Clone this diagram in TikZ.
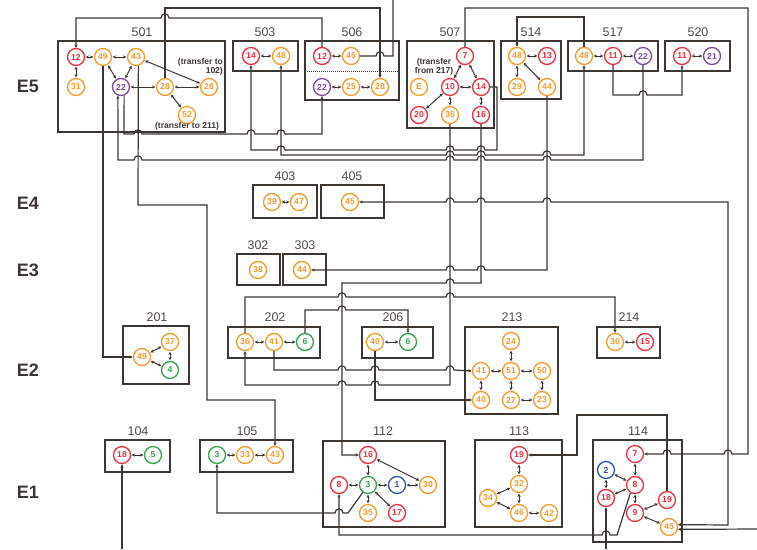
\documentclass[tikz,border=0pt]{standalone}
\usepackage{fontspec}
\setmainfont{Liberation Sans}
\usetikzlibrary{arrows.meta}
\definecolor{cr}{HTML}{E8303F}
\definecolor{co}{HTML}{F39A2D}
\definecolor{cp}{HTML}{7A4A9E}
\definecolor{cg}{HTML}{35A04F}
\definecolor{cb}{HTML}{2F55A8}
\definecolor{lc}{HTML}{3D3734}
\def\jumpR#1#2{-- (#1-4,#2) .. controls (#1-4,#2-5.5) and (#1+4,#2-5.5) .. (#1+4,#2)}
\def\jumpL#1#2{-- (#1+4,#2) .. controls (#1+4,#2-5.5) and (#1-4,#2-5.5) .. (#1-4,#2)}
\begin{document}
\begin{tikzpicture}[x=1pt,y=-1pt,
 >={Stealth[length=3.5pt,width=3.2pt]},
 cn/.style={circle,draw=#1,text=#1,fill=white,line width=1.3pt,minimum size=17pt,inner sep=0pt,font=\fontsize{8.6}{8.6}\selectfont\bfseries},
 nr/.style={cn=cr}, no/.style={cn=co}, np/.style={cn=cp}, ng/.style={cn=cg}, nb/.style={cn=cb},
 boxst/.style={draw=lc,line width=1.4pt},
 blab/.style={font=\fontsize{12.5}{12.5}\selectfont,text=lc!90},
 elab/.style={font=\fontsize{18}{18}\selectfont\bfseries,text=lc},
 tnote/.style={font=\fontsize{8.5}{9}\selectfont\bfseries,text=lc,inner sep=0pt},
 ed/.style={draw=lc,line width=1pt,<->,shorten <=0.4pt,shorten >=0.4pt},
 conn/.style={draw=lc,line width=1.2pt}
]
\useasboundingbox[fill=white] (0,0) rectangle (757,549);

% level labels
\node[elab] (E5) at (28,86) {E5};
\node[elab] (E4) at (28,203) {E4};
\node[elab] (E3) at (28,270) {E3};
\node[elab] (E2) at (28,370) {E2};
\node[elab] (E1) at (28,492) {E1};

% ---------- boxes ----------
\draw[boxst] (58,41) rectangle (225,132);   \node[blab] (L501) at (142,32) {501};
\draw[boxst] (233,41) rectangle (298,71);   \node[blab] (L503) at (265,32) {503};
\draw[boxst] (305,41) rectangle (399,100);  \node[blab] (L506) at (352,32) {506};
\draw[lc,line width=1pt,densely dotted] (305,71) -- (399,71);
\draw[boxst] (407,41) rectangle (494,128);  \node[blab] (L507) at (450,32) {507};
\draw[boxst] (501,41) rectangle (561,99);   \node[blab] (L514) at (531,32) {514};
\draw[boxst] (568,41) rectangle (658,71);   \node[blab] (L517) at (613,32) {517};
\draw[boxst] (665,41) rectangle (730,71);   \node[blab] (L520) at (698,32) {520};
\draw[boxst] (253,185) rectangle (317,218); \node[blab] (L403) at (285,176) {403};
\draw[boxst] (321,185) rectangle (384,218); \node[blab] (L405) at (352,176) {405};
\draw[boxst] (237,254) rectangle (280,285); \node[blab] (L302) at (258,245) {302};
\draw[boxst] (283,254) rectangle (326,285); \node[blab] (L303) at (305,245) {303};
\draw[boxst] (123,326) rectangle (189,384); \node[blab] (L201) at (157,317) {201};
\draw[boxst] (228,327) rectangle (320,358); \node[blab] (L202) at (275,317) {202};
\draw[boxst] (362,327) rectangle (433,358); \node[blab] (L206) at (393,317) {206};
\draw[boxst] (465,327) rectangle (558,414); \node[blab] (L213) at (512,317) {213};
\draw[boxst] (597,327) rectangle (660,358); \node[blab] (L214) at (629,317) {214};
\draw[boxst] (105,440) rectangle (170,472); \node[blab] (L104) at (138,431) {104};
\draw[boxst] (200,440) rectangle (293,472); \node[blab] (L105) at (247,431) {105};
\draw[boxst] (323,441) rectangle (445,527); \node[blab] (L112) at (383,431) {112};
\draw[boxst] (475,440) rectangle (562,527); \node[blab] (L113) at (519,431) {113};
\draw[boxst] (593,440) rectangle (682,542); \node[blab] (L114) at (638,431) {114};

\coordinate (topend) at (393,0);
\coordinate (rightend) at (757,529);
\coordinate (bl) at (122,549);
\coordinate (br) at (606,549);

% ---------- nodes ----------
% 501
\node[nr] (a12) at (76,57) {12};
\node[no] (a49) at (103,57) {49};
\node[no] (a43) at (136,57) {43};
\node[no] (a31) at (76,87) {31};
\node[np] (a22) at (121,87) {22};
\node[no] (a28) at (165,87) {28};
\node[no] (a26) at (209,87) {26};
\node[no] (a52) at (187,115) {52};
% 503
\node[nr] (b14) at (251,56) {14};
\node[no] (b48) at (281,56) {48};
% 506
\node[nr] (c12) at (322,56) {12};
\node[no] (c45) at (351,56) {45};
\node[np] (c22) at (322,87) {22};
\node[no] (c25) at (351,87) {25};
\node[no] (c28) at (380,87) {28};
% 507
\node[nr] (d7) at (465,56) {7};
\node[nr] (d10) at (450,87) {10};
\node[nr] (d14) at (481,87) {14};
\node[no] (dE) at (419,87) {E};
\node[nr] (d20) at (419,115) {20};
\node[no] (d36) at (450,115) {36};
\node[nr] (d16) at (481,115) {16};
% 514
\node[no] (e48) at (517,56) {48};
\node[nr] (e13) at (547,56) {13};
\node[no] (e29) at (517,87) {29};
\node[no] (e44) at (547,87) {44};
% 517
\node[no] (f48) at (584,56) {48};
\node[nr] (f11) at (613,56) {11};
\node[np] (f22) at (643,56) {22};
% 520
\node[nr] (g11) at (682,56) {11};
\node[np] (g21) at (712,56) {21};
% 403 405
\node[no] (h39) at (272,202) {39};
\node[no] (h47) at (299,202) {47};
\node[no] (i45) at (350,202) {45};
% 302 303
\node[no] (j38) at (258,270) {38};
\node[no] (k44) at (302,270) {44};
% 201
\node[no] (l49) at (142,357) {49};
\node[no] (l37) at (170,342) {37};
\node[ng] (l4) at (170,370) {4};
% 202
\node[no] (m36) at (245,342) {36};
\node[no] (m41) at (274,342) {41};
\node[ng] (m6) at (305,342) {6};
% 206
\node[no] (n40) at (375,342) {40};
\node[ng] (n6) at (408,342) {6};
% 213
\node[no] (o24) at (511,341) {24};
\node[no] (o41) at (481,371) {41};
\node[no] (o51) at (511,371) {51};
\node[no] (o50) at (542,371) {50};
\node[no] (o40) at (481,400) {40};
\node[no] (o27) at (511,400) {27};
\node[no] (o23) at (542,400) {23};
% 214
\node[no] (q36) at (615,342) {36};
\node[nr] (q15) at (645,342) {15};
% 104
\node[nr] (r18) at (122,455) {18};
\node[ng] (r5) at (153,455) {5};
% 105
\node[ng] (s3) at (217,455) {3};
\node[no] (s33) at (245,455) {33};
\node[no] (s43) at (275,455) {43};
% 112
\node[nr] (t16) at (368,455) {16};
\node[nr] (t8) at (339,485) {8};
\node[ng] (t3) at (368,485) {3};
\node[nb] (t1) at (397,485) {1};
\node[no] (t30) at (428,485) {30};
\node[no] (t35) at (368,513) {35};
\node[nr] (t17) at (397,513) {17};
% 113
\node[nr] (u19) at (519,455) {19};
\node[no] (u32) at (519,484) {32};
\node[no] (u34) at (488,498) {34};
\node[no] (u46) at (519,513) {46};
\node[no] (u42) at (549,513) {42};
% 114
\node[nr] (v7) at (635,454) {7};
\node[nb] (v2) at (606,470) {2};
\node[nr] (v8) at (635,485) {8};
\node[nr] (v18) at (606,498) {18};
\node[nr] (v19) at (667,500) {19};
\node[nr] (v9) at (635,513) {9};
\node[no] (v45) at (669,527) {45};

% notes
\node[tnote,align=right,anchor=north east] (n102) at (223,58) {(transfer to\\102)};
\node[tnote] (n211) at (187,126) {(transfer to 211)};
\node[tnote,align=center] (n217) at (434,67) {(transfer\\from 217)};

% ---------- long connectors ----------
\draw[conn,->] (c12.north) -- (322,18) \jumpL{165}{18} -- (76,18) -- (a12.north);
\draw[conn,->] (a28.north) -- (165,8) -- (380,8) -- (c28.north);
\draw[conn] (c45.east) \jumpR{380}{56} -- (393,56) -- (topend);
\draw[conn,->] (d7.north) -- (465,8) -- (748,8) -- (748,454) \jumpL{728}{454} \jumpL{667}{454} -- (v7.east);
\draw[conn,<-] (e48.north) -- (517,17) -- (584,17) -- (f48.north);
\draw[conn,->] (f11.south) -- (613,95) \jumpR{643}{95} -- (682,95) -- (g11.south);
\draw[conn,->] (f22.south) -- (643,160) \jumpL{547}{160} \jumpL{481}{160} \jumpL{450}{160} \jumpL{138}{160} -- (118,160) -- (a22.250);
\draw[conn,<->] (b48.south) -- (281,155) \jumpR{450}{155} \jumpR{481}{155} \jumpR{547}{155} -- (584,155) -- (f48.south);
\draw[conn,<-] (b14.south) -- (251,150) \jumpR{281}{150} \jumpR{450}{150} \jumpR{481}{150} -- (497,150) -- (497,87) -- (d14.east);
\draw[conn,->] (a22.290) -- (124,134) \jumpR{138}{134} \jumpR{251}{134} \jumpR{281}{134} -- (322,134) -- (c22.south);
\draw[conn,->] (a49.south) -- (103,357) -- (l49.west);
\draw[conn,->] (a43.285) -- (138,205) -- (207,205) -- (207,400) -- (275,400) -- (s43.north);
\draw[conn,<->] (i45.east) \jumpR{450}{202} \jumpR{481}{202} \jumpR{547}{202} -- (728,202) -- (728,525) -- (v45.15);
\draw[conn,->] (rightend) -- (v45.-15);
\draw[conn,->] (e44.south) -- (547,270) \jumpL{481}{270} \jumpL{450}{270} -- (k44.east);
\draw[conn,->] (d16.south) -- (481,283) \jumpL{450}{283} -- (342,283) -- (342,455) -- (t16.west);
\draw[conn,->] (d36.south) -- (450,385) \jumpL{375}{385} \jumpL{342}{385} -- (245,385) -- (m36.south);
\draw[conn,->] (m36.north) -- (245,297) \jumpR{342}{297} \jumpR{450}{297} -- (615,297) -- (q36.north);
\draw[conn,->] (m6.north) -- (305,310) \jumpR{342}{310} -- (408,310) -- (n6.north);
\draw[conn,->] (m41.south) -- (274,370) \jumpR{342}{370} \jumpR{375}{370} \jumpR{450}{370} -- (o41.west);
\draw[conn,->] (n40.south) -- (375,400) -- (o40.west);
\draw[conn,->] (t3.235) -- (348,513) \jumpL{339}{513} -- (217,513) -- (s3.south);
\draw[conn,->] (v8.240) -- (617,535) \jumpL{606}{535} -- (339,535) -- (t8.south);
\draw[conn,->] (v19.north) -- (667,415) -- (577,415) -- (577,455) -- (u19.east);
\draw[conn,->] (bl) -- (r18.south);
\draw[conn,->] (br) -- (v18.south);

% ---------- short edges ----------
\foreach \p/\q in {a12/a49,a49/a43,a12/a31,a49/a22,a43/a22,a22/a28,a28/a26,a43/a26,a28/a52,
 b14/b48,c12/c45,c22/c25,c25/c28,
 d7/d10,d7/d14,d10/d14,d10/d20,d10/d36,d14/d16,
 e48/e13,e48/e29,e48/e44,f48/f11,f11/f22,g11/g21,h39/h47,
 l49/l37,l37/l4,l49/l4,m36/m41,m41/m6,n40/n6,
 o24/o51,o41/o51,o51/o50,o41/o40,o51/o27,o50/o23,o27/o23,q36/q15,
 r18/r5,s3/s33,s33/s43,
 t16/t3,t8/t3,t3/t1,t1/t30,t3/t35,t3/t17,t16/t30,
 u19/u32,u32/u46,u34/u32,u34/u46,u46/u42,
 v7/v8,v2/v8,v18/v8,v2/v18,v8/v9,v19/v9,v9/v45}
 {\draw[ed] (\p) -- (\q);}
\end{tikzpicture}
\end{document}
